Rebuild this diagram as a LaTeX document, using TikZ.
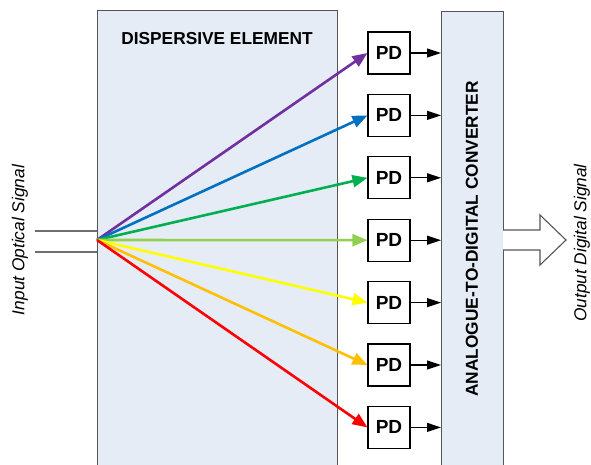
\documentclass[tikz,border=0pt]{standalone}
\usepackage{fontspec}
\setmainfont{Liberation Sans}
\usetikzlibrary{arrows.meta}
\definecolor{boxfill}{RGB}{229,236,246}
\definecolor{boxline}{RGB}{85,85,85}
\definecolor{cpurple}{RGB}{112,48,160}
\definecolor{cblue}{RGB}{0,112,192}
\definecolor{cgreen}{RGB}{0,176,80}
\definecolor{clgreen}{RGB}{146,208,80}
\definecolor{cyellow}{RGB}{255,255,0}
\definecolor{corange}{RGB}{255,192,0}
\definecolor{cred}{RGB}{255,0,0}
\definecolor{inputgray}{RGB}{110,110,110}
\tikzset{
  bigbox/.style={draw=boxline, fill=boxfill, line width=1.1pt, inner sep=0pt},
  pdbox/.style={draw=black, fill=white, line width=1.1pt, minimum width=42pt, minimum height=42pt, inner sep=0pt, font=\fontsize{19}{20}\selectfont\bfseries},
  titletext/.style={font=\fontsize{17.3}{20}\selectfont\bfseries, inner sep=0pt},
  sidetext/.style={font=\fontsize{17.3}{20}\selectfont\itshape, inner sep=0pt, rotate=90},
  ray/.style={line width=2.6pt, -{Triangle[length=15pt,width=12pt]}},
  outarrow/.style={line width=1.1pt, -{Triangle[length=14pt,width=9pt]}},
  inline/.style={draw=inputgray, line width=1.3pt}
}
\begin{document}
\begin{tikzpicture}[x=1pt,y=-1pt]
\useasboundingbox (0,0) rectangle (591,465);
% big boxes
\node[bigbox, minimum width=240pt, minimum height=470pt, anchor=north west] (disp) at (97,10) {};
\node[titletext] (disptext) at (217,39) {DISPERSIVE ELEMENT};
\node[bigbox, minimum width=62pt, minimum height=470pt, anchor=north west] (adc) at (441,11) {};
\node[titletext, rotate=90] (adctext) at (472,239) {ANALOGUE-TO-DIGITAL CONVERTER};
% input
\coordinate (src) at (97,240);
\coordinate (in1) at (35,231);
\coordinate (in2) at (35,252);
\draw[inline] (in1) -- (in1 -| disp.west);
\draw[inline] (in2) -- (in2 -| disp.west);
\node[sidetext] (intext) at (20,240) {Input Optical Signal};
% PDs
\foreach \i/\c in {1/cpurple,2/cblue,3/cgreen,4/clgreen,5/cyellow,6/corange,7/cred}{
  \node[pdbox] (pd\i) at (389,{53+(\i-1)*62.4}) {PD};
  \draw[ray, draw=\c, fill=\c] (src) -- (pd\i.west);
  \draw[outarrow] (pd\i.east) -- (pd\i.east -| adc.west);
}
% output hollow arrow
\coordinate (oa) at (503,230);
\coordinate (ob) at (503,250);
\draw[draw=boxline, fill=white, line width=1.1pt] (oa) -- (540,230) -- (540,215) -- (566,240) -- (540,265) -- (540,250) -- (ob);
\node[sidetext] (outtext) at (582,243) {Output Digital Signal};
\end{tikzpicture}
\end{document}
